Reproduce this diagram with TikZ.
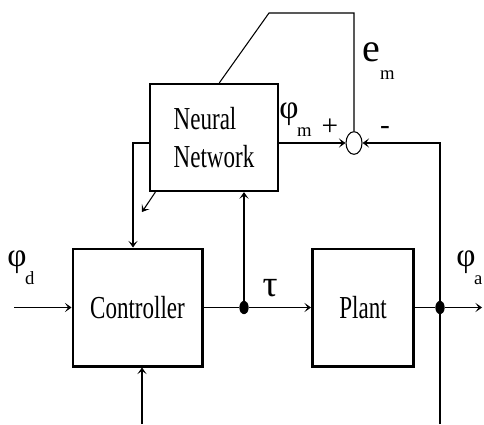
\documentclass[tikz,border=0pt]{standalone}
\usepackage{fontspec}
\setmainfont{Liberation Serif}
\newfontfamily\condfont[FakeStretch=0.72]{Liberation Serif}
\usetikzlibrary{positioning,arrows.meta,shapes.geometric}
\newcommand{\sgl}[2]{{\fontsize{25}{27}\selectfont #1}\kern-1pt\raisebox{-14pt}{\fontsize{14}{16}\selectfont #2}}
\tikzset{
  blk/.style={draw,line width=2pt,rectangle,inner sep=0pt,
    font=\condfont\fontsize{24}{28}\selectfont,align=left},
  sgn/.style={-{Stealth[length=5pt,width=7pt,inset=2.5pt]},line width=0.8pt},
  ln/.style={line width=0.8pt},
  jdot/.style={ellipse,fill=black,minimum width=7pt,minimum height=10pt,inner sep=0pt},
  sumpt/.style={ellipse,draw,line width=0.8pt,minimum width=12pt,minimum height=17pt,inner sep=0pt},
  lbl/.style={inner sep=0pt},
}
\begin{document}
\begin{tikzpicture}[x=0.75pt,y=-0.75pt]
  \useasboundingbox (0,0) rectangle (484,424);
  % blocks
  \node[blk,minimum width=96pt,minimum height=80pt] (nn) at (214,137.5) {Neural\\Network};
  \node[blk,minimum width=97pt,minimum height=88pt] (ctrl) at (137.5,307.5) {Controller};
  \node[blk,minimum width=76pt,minimum height=88pt] (plant) at (363,307.5) {Plant};
  \node[sumpt] (sum) at (354,143) {};
  \node[jdot] (j1) at (244,307.5) {};
  \node[jdot] (j2) at (440,307.5) {};
  \coordinate (in) at (14,307.5);
  \coordinate (out) at (482,307.5);
  \coordinate (ctrlin) at (142,424);
  \coordinate (fbbot) at (440,424);
  \coordinate (lft) at (133,143);
  \coordinate (nntip) at (142,212);
  \coordinate (emtop) at (269,13);
  % forward path
  \draw[sgn] (in) -- (ctrl);
  \draw[ln] (ctrl) -- (j1);
  \draw[sgn] (j1) -- (plant);
  \draw[ln] (plant) -- (j2);
  \draw[sgn] (j2) -- (out);
  % network connections
  \draw[sgn] (j1) -- (j1 |- nn.south);
  \draw[sgn] (nn.east |- sum) -- (sum.west);
  \draw[sgn] (fbbot) |- (sum.east);
  \draw[ln] (sum.north) -- (sum.north |- emtop) -- (emtop) -- ([xshift=4pt]nn.north);
  \draw[sgn] (nn.west |- lft) -- (lft) -- (lft |- ctrl.north);
  \draw[sgn] ([xshift=5pt]nn.south west) -- (nntip);
  \draw[sgn] (ctrlin) -- (ctrlin |- ctrl.south);
  % labels
  \node[lbl,anchor=base west] (phid) at (7,266) {\sgl{φ}{d}};
  \node[lbl,anchor=base west] (phia) at (456,266) {\sgl{φ}{a}};
  \node[lbl,anchor=base west] (phim) at (279,118) {\sgl{φ}{m}};
  \node[lbl,anchor=base west] (em) at (362,62) {{\fontsize{30}{32}\selectfont e}\kern0pt\raisebox{-13pt}{\fontsize{14}{16}\selectfont m}};
  \node[lbl,font=\fontsize{28}{30}\selectfont] (tau) at (270,288) {τ};
  \node[lbl,font=\fontsize{22}{24}\selectfont] (plus) at (330,127) {+};
  \node[lbl,font=\fontsize{22}{24}\selectfont] (minus) at (385,130) {-};
\end{tikzpicture}
\end{document}
